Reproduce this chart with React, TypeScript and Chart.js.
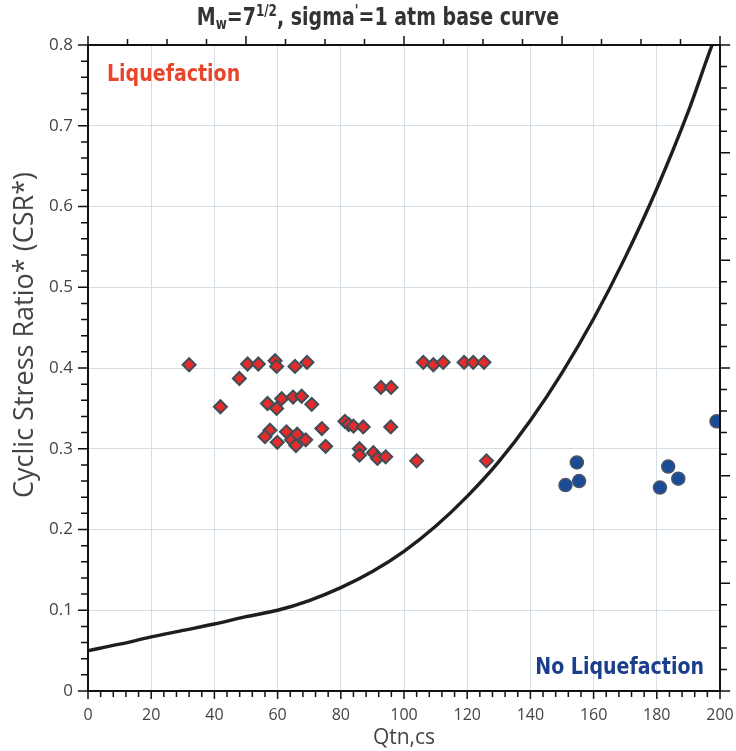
import React, { useEffect, useRef } from "react";
import { Chart, registerables } from "chart.js";

Chart.register(...registerables);

// Liquefaction cases (red diamonds)
const liqQ = [32, 41.9, 47.9, 50.5, 53.9, 59.2, 59.7, 65.5, 69.3, 56.8, 59.7, 61.3, 64.9, 67.6, 70.8, 57.6, 56.0, 59.9, 62.8, 64.4, 66.2, 65.8, 68.9, 74.0, 75.2, 81.3, 82.5, 84.0, 87.1, 95.8, 92.7, 95.9, 85.9, 85.9, 90.3, 91.6, 94.2, 104.0, 126.1, 106.1, 109.3, 112.4, 119.0, 121.9, 125.3];
const liqCSR = [0.404, 0.352, 0.387, 0.405, 0.405, 0.409, 0.402, 0.402, 0.407, 0.356, 0.350, 0.362, 0.364, 0.365, 0.355, 0.323, 0.315, 0.308, 0.321, 0.311, 0.318, 0.304, 0.311, 0.325, 0.303, 0.334, 0.330, 0.328, 0.327, 0.327, 0.376, 0.376, 0.300, 0.292, 0.295, 0.288, 0.290, 0.285, 0.285, 0.407, 0.404, 0.407, 0.407, 0.407, 0.407];

// No-liquefaction cases (blue circles)
const noLiqQ = [154.7, 151.1, 155.4, 183.6, 186.8, 181.0, 198.9];
const noLiqCSR = [0.283, 0.255, 0.260, 0.278, 0.263, 0.252, 0.334];

// Base curve
const curveQ = [0, 10, 20, 30, 40, 50, 60, 70, 80, 90, 100, 110, 120, 130, 140, 150, 160, 170, 180, 190, 197.5, 200];
const curveCSR = [0.050, 0.058, 0.067, 0.075, 0.083, 0.092, 0.100, 0.112, 0.128, 0.148, 0.173, 0.204, 0.241, 0.284, 0.335, 0.394, 0.461, 0.537, 0.622, 0.718, 0.800, 0.824];

const xTickLabels = ["0", "20", "40", "60", "80", "100", "120", "140", "160", "180", "200"];
const yTickLabels = ["0", "0.1", "0.2", "0.3", "0.4", "0.5", "0.6", "0.7", "0.8"];

const yTitle = "Cyclic Stress Ratio* (CSR*)";
const regionLabels = ["Liquefaction", "No Liquefaction"];
// title pieces: [text, kind]
const titleParts: [string, string][] = [
  ["M", "n"], ["w", "sub"], ["=7", "n"], ["1/2", "sup"], [", sigma", "n"], ["'", "sup"], ["=1 atm base curve", "n"],
];

const BOLD = '"DejaVu Sans", Verdana, sans-serif';

const decor = {
  id: "decor",
  afterDraw(chart: any) {
    const { ctx, chartArea: a, scales } = chart;
    const xs = scales.x;
    const ys = scales.y;
    ctx.save();
    ctx.strokeStyle = "#111";
    ctx.lineWidth = 1.5;
    ctx.beginPath();
    for (let i = 0; i <= 50; i++) {
      const px = xs.getPixelForValue(i * 4);
      const len = i % 5 === 0 ? 8 : 6;
      ctx.moveTo(px, a.bottom);
      ctx.lineTo(px, a.bottom + len);
    }
    for (let i = 0; i <= 16; i++) {
      const px = xs.getPixelForValue(i * 12.5);
      const len = i % 4 === 0 ? 9 : 6;
      ctx.moveTo(px, a.top);
      ctx.lineTo(px, a.top - len);
    }
    for (let i = 0; i <= 40; i++) {
      const py = ys.getPixelForValue(i * 0.02);
      const len = i % 5 === 0 ? 10 : 7;
      ctx.moveTo(a.left, py);
      ctx.lineTo(a.left - len, py);
    }
    for (let i = 0; i <= 30; i++) {
      const py = ys.getPixelForValue((i * 0.8) / 30);
      const len = i % 5 === 0 ? 10 : 7;
      ctx.moveTo(a.right, py);
      ctx.lineTo(a.right + len, py);
    }
    ctx.stroke();
    ctx.lineWidth = 2;
    ctx.strokeRect(a.left, a.top, a.right - a.left, a.bottom - a.top);

    // region labels
    ctx.font = `bold 19px ${BOLD}`;
    ctx.textBaseline = "alphabetic";
    ctx.save();
    ctx.translate(a.left + 19, a.top + 36);
    ctx.scale(1, 1.22);
    ctx.fillStyle = "#e8452a";
    ctx.textAlign = "left";
    ctx.fillText(regionLabels[0], 0, 0);
    ctx.restore();
    ctx.save();
    ctx.translate(a.right - 16, a.bottom - 17);
    ctx.scale(1, 1.22);
    ctx.fillStyle = "#1c3f8c";
    ctx.textAlign = "right";
    ctx.fillText(regionLabels[1], 0, 0);
    ctx.restore();

    // y axis title
    ctx.save();
    ctx.translate(33, (a.top + a.bottom) / 2 - 33);
    ctx.rotate(-Math.PI / 2);
    ctx.font = '27px "Open Sans"';
    ctx.fillStyle = "#444";
    ctx.textAlign = "center";
    ctx.fillText(yTitle, 0, 0);
    ctx.restore();

    // chart title with sub/superscripts
    ctx.save();
    ctx.fillStyle = "#333";
    ctx.textAlign = "left";
    const fontFor = (k: string) => (k === "n" ? `bold 19px ${BOLD}` : `bold 12px ${BOLD}`);
    let total = 0;
    for (const [t, k] of titleParts) {
      ctx.font = fontFor(k);
      total += ctx.measureText(t).width;
    }
    let x = 378 - total / 2;
    ctx.translate(0, 25);
    ctx.scale(1, 1.3);
    for (const [t, k] of titleParts) {
      ctx.font = fontFor(k);
      const dy = k === "sub" ? 3 : k === "sup" ? -7 : 0;
      ctx.fillText(t, x, dy);
      x += ctx.measureText(t).width;
    }
    ctx.restore();
    ctx.restore();
  },
};

export default function App() {
  const ref = useRef<HTMLCanvasElement>(null);
  useEffect(() => {
    if (!ref.current) return;
    const chart = new Chart(ref.current, {
      type: "scatter",
      data: {
        datasets: [
          {
            type: "line",
            label: "Base curve",
            data: curveQ.map((q, i) => ({ x: q, y: curveCSR[i] })),
            borderColor: "#1e1e1e",
            borderWidth: 3.4,
            pointRadius: 0,
            cubicInterpolationMode: "monotone",
            fill: false,
            order: 2,
          } as any,
          {
            label: "Liquefaction",
            data: liqQ.map((q, i) => ({ x: q, y: liqCSR[i] })),
            pointStyle: "rectRot",
            pointRadius: 6.5,
            backgroundColor: "#e42a2a",
            borderColor: "#3e4f57",
            borderWidth: 2,
            order: 1,
          },
          {
            label: "No Liquefaction",
            data: noLiqQ.map((q, i) => ({ x: q, y: noLiqCSR[i] })),
            pointStyle: "circle",
            pointRadius: 6.5,
            backgroundColor: "#1a4b97",
            borderColor: "#4a5668",
            borderWidth: 1.5,
            order: 0,
          },
        ],
      },
      options: {
        animation: false,
        responsive: false,
        layout: { padding: { top: 45, right: 16, left: 0, bottom: 0 } },
        plugins: { legend: { display: false }, tooltip: { enabled: false } },
        scales: {
          x: {
            type: "linear",
            position: "bottom",
            min: 0,
            max: 200,
            ticks: {
              stepSize: 20,
              padding: 15,
              color: "#444",
              font: { family: '"Open Sans"', size: 16 },
              callback: (v: any) => xTickLabels[Math.round(Number(v) / 20)] ?? "",
              maxRotation: 0,
            },
            grid: { color: "#d5dde5", lineWidth: 1, drawTicks: false },
            border: { display: false },
            title: {
              display: true,
              text: "Qtn,cs",
              color: "#444",
              font: { family: '"Open Sans"', size: 21 },
              padding: { top: 0, bottom: 0 },
            },
            afterFit: (s: any) => {
              s.height = 60;
              s.paddingLeft = 0;
              s.paddingRight = 0;
            },
          },
          y: {
            type: "linear",
            position: "left",
            min: 0,
            max: 0.8,
            ticks: {
              stepSize: 0.1,
              padding: 15,
              color: "#444",
              font: { family: '"Open Sans"', size: 17 },
              callback: (v: any) => yTickLabels[Math.round(Number(v) * 10)] ?? "",
            },
            grid: { color: "#d5dde5", lineWidth: 1, drawTicks: false },
            border: { display: false },
            title: { display: false },
            afterFit: (s: any) => {
              s.width = 88;
              s.paddingTop = 0;
              s.paddingBottom = 0;
            },
          },
        },
      },
      plugins: [decor],
    });
    return () => chart.destroy();
  }, []);

  return (
    <div style={{ position: "absolute", left: 0, top: 0, width: 736, height: 751, background: "#fff" }}>
      <canvas ref={ref} width={736} height={751} style={{ display: "block", width: 736, height: 751 }} />
    </div>
  );
}
